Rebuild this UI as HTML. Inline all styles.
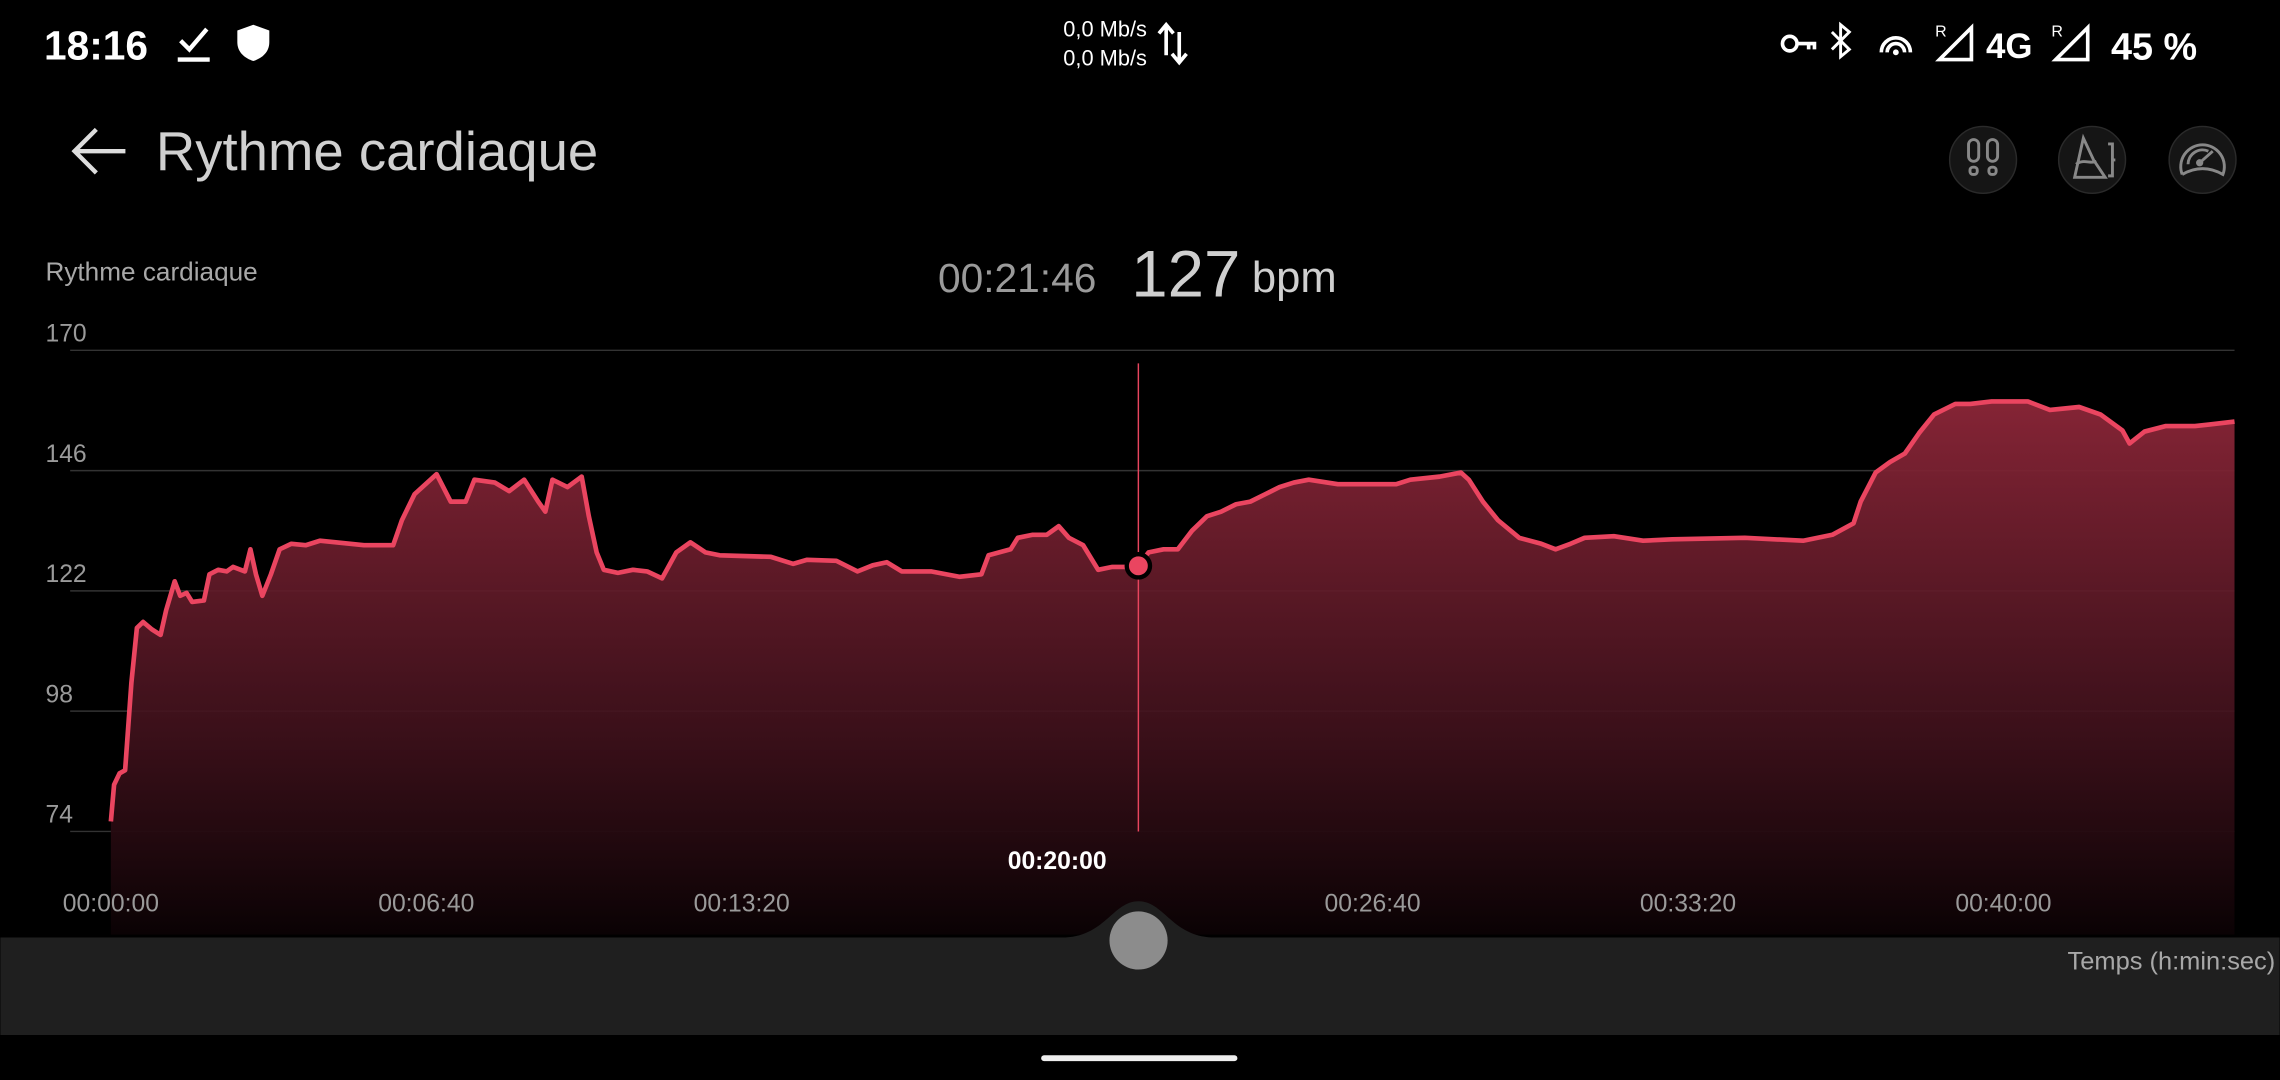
<!DOCTYPE html>
<html><head><meta charset="utf-8"><style>
html,body{margin:0;padding:0;background:#000;width:2280px;height:1080px;overflow:hidden}
svg{display:block;font-family:"Liberation Sans",sans-serif}
</style></head><body>
<svg id="s" width="2280" height="1080" viewBox="0 0 1568 743">
<defs>
<linearGradient id="g" x1="0" y1="0" x2="0" y2="1">
<stop offset="0" stop-color="#8c2638" stop-opacity="0.95"/>
<stop offset="0.55" stop-color="#4a1420" stop-opacity="0.9"/>
<stop offset="1" stop-color="#0a0204" stop-opacity="1"/>
</linearGradient>
</defs>
<rect width="1568" height="743" fill="#000"/>
<g>
<text x="30" y="41" font-size="28" font-weight="bold" fill="#fff">18:16</text>
<path d="M124 28 l6 6 l12 -14 M122 41 h22" stroke="#fff" stroke-width="3" fill="none"/>
<path d="M174 17 l11 4 v8 c0 7 -5 11 -11 13 c-6 -2 -11 -6 -11 -13 v-8 z" fill="#fff"/>
<text x="760" y="25" font-size="15" fill="#fff" text-anchor="middle">0,0 Mb/s</text>
<text x="760" y="45" font-size="15" fill="#fff" text-anchor="middle">0,0 Mb/s</text>
<path d="M802 38 v-20 m-5 5 l5 -6 l5 6 M811 22 v20 m-5 -5 l5 6 l5 -6" stroke="#fff" stroke-width="2.5" fill="none"/>
<circle cx="1231" cy="30" r="5" stroke="#fff" stroke-width="2.5" fill="none"/><path d="M1236 30 h12 v4 m-4 -4 v4" stroke="#fff" stroke-width="2.5" fill="none"/>
<path d="M1260 22 l12 12 l-6 5 v-22 l6 5 l-12 12" stroke="#fff" stroke-width="2" fill="none"/>
<path d="M1294 36 a10 10 0 0 1 20 0 M1298 36 a6 6 0 0 1 12 0" stroke="#fff" stroke-width="2.5" fill="none"/><circle cx="1304" cy="36" r="2" fill="#fff"/>
<text x="1331" y="25" font-size="11" fill="#fff">R</text><path d="M1334 41 L1356 19 V41 Z" fill="none" stroke="#fff" stroke-width="2.5"/>
<text x="1366" y="40" font-size="24" font-weight="bold" fill="#fff">4G</text>
<text x="1411" y="25" font-size="11" fill="#fff">R</text><path d="M1414 41 L1436 19 V41 Z" fill="none" stroke="#fff" stroke-width="2.5"/>
<text x="1452" y="41" font-size="26" font-weight="bold" fill="#fff">45 %</text>
</g>
<path d="M86 104 H52 M66 89 L51 104 L66 119" stroke="#ddd" stroke-width="3" fill="none"/>
<text x="107" y="117" font-size="37.5" fill="#d0d0d0">Rythme cardiaque</text>
<g><circle cx="1364" cy="110" r="23" fill="#151515" stroke="#2a2a2a"/><rect x="1354" y="96" width="7" height="15" rx="3.5" stroke="#888" stroke-width="2" fill="none"/><rect x="1367" y="96" width="7" height="15" rx="3.5" stroke="#888" stroke-width="2" fill="none"/><rect x="1355" y="115" width="5" height="5" rx="2" stroke="#888" stroke-width="2" fill="none"/><rect x="1368" y="115" width="5" height="5" rx="2" stroke="#888" stroke-width="2" fill="none"/></g>
<g><circle cx="1439" cy="110" r="23" fill="#151515" stroke="#2a2a2a"/><path d="M1433 95 L1427 122 H1448 L1440 110 Z M1428 113 c5 -4 10 0 14 -2" stroke="#888" stroke-width="2" fill="none"/><path d="M1450 99 h3 v22 h-3 M1453 110 h2" stroke="#888" stroke-width="2" fill="none"/></g>
<g><circle cx="1515" cy="110" r="23" fill="#151515" stroke="#2a2a2a"/><path d="M1501 120 a15 15 0 1 1 28 0 q-14 -8 -28 0" stroke="#888" stroke-width="2" fill="none"/><path d="M1505 113 a10 10 0 0 1 14 -9" stroke="#888" stroke-width="2" fill="none"/><path d="M1513 112 l9 -8" stroke="#888" stroke-width="2"/><circle cx="1513" cy="112" r="2.5" fill="#888"/></g>
<text x="31" y="193" font-size="18" fill="#a8a8a8">Rythme cardiaque</text>
<text x="645" y="201" font-size="28" fill="#9a9a9a">00:21:46</text>
<text x="778" y="204" font-size="45" fill="#cfcfcf">127</text>
<text x="861" y="201" font-size="30" fill="#cfcfcf">bpm</text>
<g id="grid"></g>
<g id="plot"></g>
<path d="M0 645 H730 C760 645 765 620 783 620 C801 620 806 645 836 645 H1568 V712 H0 Z" fill="#1f1f1f"/>
<circle cx="783" cy="647" r="20" fill="#8c8c8c"/>
<text x="1565" y="667" font-size="17.5" fill="#a8a8a8" text-anchor="end">Temps (h:min:sec)</text>
<rect x="716" y="726" width="135" height="4" rx="2" fill="#eee"/>
<g id="xl"></g>
</svg>
<script>
const times=[0,4,11,18,26,33,41,52,63,70,81,88,96,103,118,125,136,147,155,170,177,184,192,203,214,229,247,265,321,358,369,385,413,431,450,461,487,505,524,542,551,560,579,597,606,616,625,643,662,680,699,717,735,754,772,837,865,883,920,947,966,984,1003,1040,1076,1104,1113,1141,1150,1169,1187,1202,1215,1233,1252,1270,1288,1303,1316,1335,1353,1371,1390,1408,1427,1445,1464,1482,1500,1519,1556,1593,1630,1648,1685,1712,1722,1740,1759,1786,1814,1832,1851,1869,1906,1943,1980,2072,2146,2183,2210,2219,2238,2256,2275,2293,2312,2339,2358,2385,2431,2459,2496,2523,2551,2560,2579,2606,2643,2662,2693];
const bpm=[76,83.3,85.6,86.2,103.6,114.6,115.8,114.3,113.2,118.1,123.9,121,121.6,119.8,120.1,125.3,126.2,125.9,126.8,125.9,130.3,125.3,121,125.3,130.3,131.4,131.1,132,131.1,131.1,136.1,141.3,145.3,139.8,139.8,144.2,143.6,141.9,144.2,139.8,137.8,144.2,142.7,144.8,136.9,129.7,126.2,125.6,126.2,125.9,124.5,129.7,131.7,129.7,129.1,128.8,127.4,128.2,128,125.9,127.1,127.7,125.9,125.9,124.8,125.3,129.1,130.3,132.6,133.2,133.2,134.9,132.6,131.1,126.2,126.8,126.8,127,129.7,130.3,130.3,134,136.9,137.8,139.3,139.8,141.3,142.7,143.6,144.2,143.3,143.3,143.3,144.2,144.8,145.6,144.2,139.8,136.1,132.6,131.4,130.3,131.4,132.6,132.9,132,132.3,132.6,132,133.2,135.5,139.8,145.6,147.7,149.4,153.5,157.2,159.3,159.3,159.8,159.8,158.1,158.7,157.2,154,151.4,153.8,154.9,154.9,155.2,155.8];
const yTicks=[170,146,122,98,74];
const xTicks=[0,400,800,1200,1600,2000,2400];
const xTickLabels=["00:00:00","00:06:40","00:13:20","00:20:00","00:26:40","00:33:20","00:40:00"];
const cursorTime=1303, cursorValue=127;
const NS="http://www.w3.org/2000/svg";
const X=t=>76+(t/400)*217;
const Y=v=>241+(170-v)*(331/96);
function mk(tag,attrs,parent){const e=document.createElementNS(NS,tag);for(const k in attrs)e.setAttribute(k,attrs[k]);parent.appendChild(e);return e;}
const grid=document.getElementById('grid'),plot=document.getElementById('plot'),xl=document.getElementById('xl');
yTicks.forEach(v=>{
 const l=mk('line',{x1:48,x2:1537,y1:Y(v),y2:Y(v),stroke:'#333','stroke-width':1},grid);
 
 
 const t=mk('text',{x:31,y:Y(v)-6,'font-size':17,fill:'#9a9a9a'},grid);t.textContent=v;
 
 
});
let d='';times.forEach((t,i)=>{d+=(i?'L':'M')+X(t).toFixed(1)+' '+Y(bpm[i]).toFixed(1)+' ';});
const area=mk('path',{d:d+'L'+X(times[times.length-1])+' 643 L'+X(0)+' 643 Z',fill:'url(#g)'},plot);


const line=mk('path',{d:d,fill:'none',stroke:'#ea4560','stroke-width':3.2,'stroke-linejoin':'round'},plot);


const cl=mk('line',{x1:X(cursorTime),x2:X(cursorTime),y1:250,y2:572,stroke:'#e8455e','stroke-width':1},plot);


const mc=mk('circle',{cx:X(cursorTime),cy:Y(cursorValue),r:8,fill:'#ea4560',stroke:'#000','stroke-width':3},plot);


xTicks.forEach((t,i)=>{
 const sel=i===3;
 const e=mk('text',{x:X(t),y:sel?598:627,'font-size':17,fill:sel?'#fff':'#9a9a9a','font-weight':sel?'bold':'normal','text-anchor':'middle'},xl);
 e.textContent=xTickLabels[i];
 
 
});
</script>
</body></html>
